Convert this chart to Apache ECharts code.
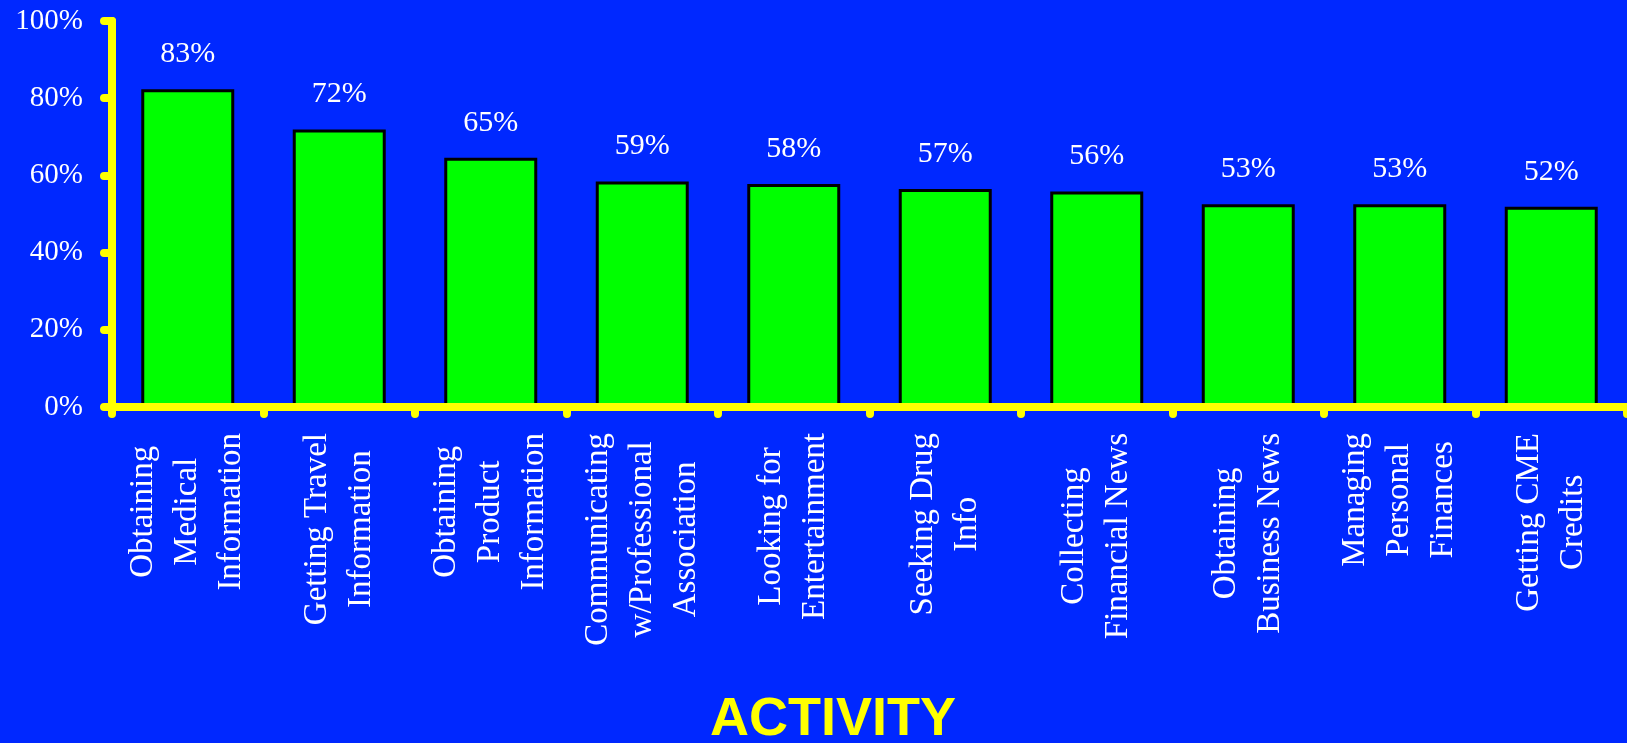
<!DOCTYPE html>
<html>
<head>
<meta charset="utf-8">
<script src="https://cdn.jsdelivr.net/npm/echarts@6/dist/echarts.min.js"></script>
<style>html,body{margin:0;padding:0;background:#0028ff;}#c{width:1627px;height:743px;}</style>
</head>
<body>
<div id="c"></div>
<script>
const categories = [
  "Obtaining\nMedical\nInformation",
  "Getting Travel\nInformation",
  "Obtaining\nProduct\nInformation",
  "Communicating\nw/Professional\nAssociation",
  "Looking for\nEntertainment",
  "Seeking Drug\nInfo",
  "Collecting\nFinancial News",
  "Obtaining\nBusiness News",
  "Managing\nPersonal\nFinances",
  "Getting CME\nCredits"
];
const values = [82.3, 71.9, 64.6, 58.4, 57.8, 56.5, 55.8, 52.5, 52.5, 51.9];
const valueLabels = ["83%", "72%", "65%", "59%", "58%", "57%", "56%", "53%", "53%", "52%"];
const yTicks = [0, 20, 40, 60, 80, 100];
const axisTitle = "ACTIVITY";

const serif = "'Liberation Serif', 'Times New Roman', serif";
const chart = echarts.init(document.getElementById('c'));
chart.setOption({
  backgroundColor: '#0028ff',
  animation: false,
  grid: { left: 112, top: 21, bottom: 336, right: -6, containLabel: false },
  xAxis: {
    type: 'category',
    data: categories,
    z: 10,
    axisLine: { lineStyle: { color: '#ffff00', width: 8, cap: 'round' } },
    axisTick: { show: true, length: 7, alignWithLabel: false, lineStyle: { color: '#ffff00', width: 8, cap: 'round' } },
    axisLabel: {
      interval: 0,
      rotate: 90,
      margin: 26,
      color: '#ffffff',
      fontFamily: serif,
      fontSize: 33,
      lineHeight: 44,
      formatter: function (v) {
        return v.split('\n').map(function (l) { return '{c|' + l + '}'; }).join('\n');
      },
      rich: { c: { align: 'center', color: '#ffffff', fontFamily: serif, fontSize: 33, lineHeight: 44 } }
    }
  },
  yAxis: {
    type: 'value',
    min: yTicks[0],
    max: yTicks[yTicks.length - 1],
    interval: yTicks[1] - yTicks[0],
    z: 10,
    splitLine: { show: false },
    axisLine: { show: true, lineStyle: { color: '#ffff00', width: 8, cap: 'round' } },
    axisTick: { show: true, length: 8, lineStyle: { color: '#ffff00', width: 8, cap: 'round' } },
    axisLabel: { color: '#ffffff', fontFamily: serif, fontSize: 29, margin: 29, formatter: '{value}%' }
  },
  graphic: [{
    type: 'text',
    x: 833, y: 720,
    style: { text: axisTitle, fill: '#ffff00', font: "bold 54px 'Liberation Sans', Arial, sans-serif", textAlign: 'center', textVerticalAlign: 'middle' }
  }],
  series: [{
    type: 'bar',
    data: values,
    barWidth: 93,
    itemStyle: { color: '#00ff00', borderColor: '#000000', borderWidth: 3 },
    label: {
      show: true,
      position: 'top',
      distance: 20,
      color: '#ffffff',
      fontFamily: serif,
      fontSize: 30,
      formatter: function (p) { return valueLabels[p.dataIndex]; }
    }
  }]
});
</script>
</body>
</html>
